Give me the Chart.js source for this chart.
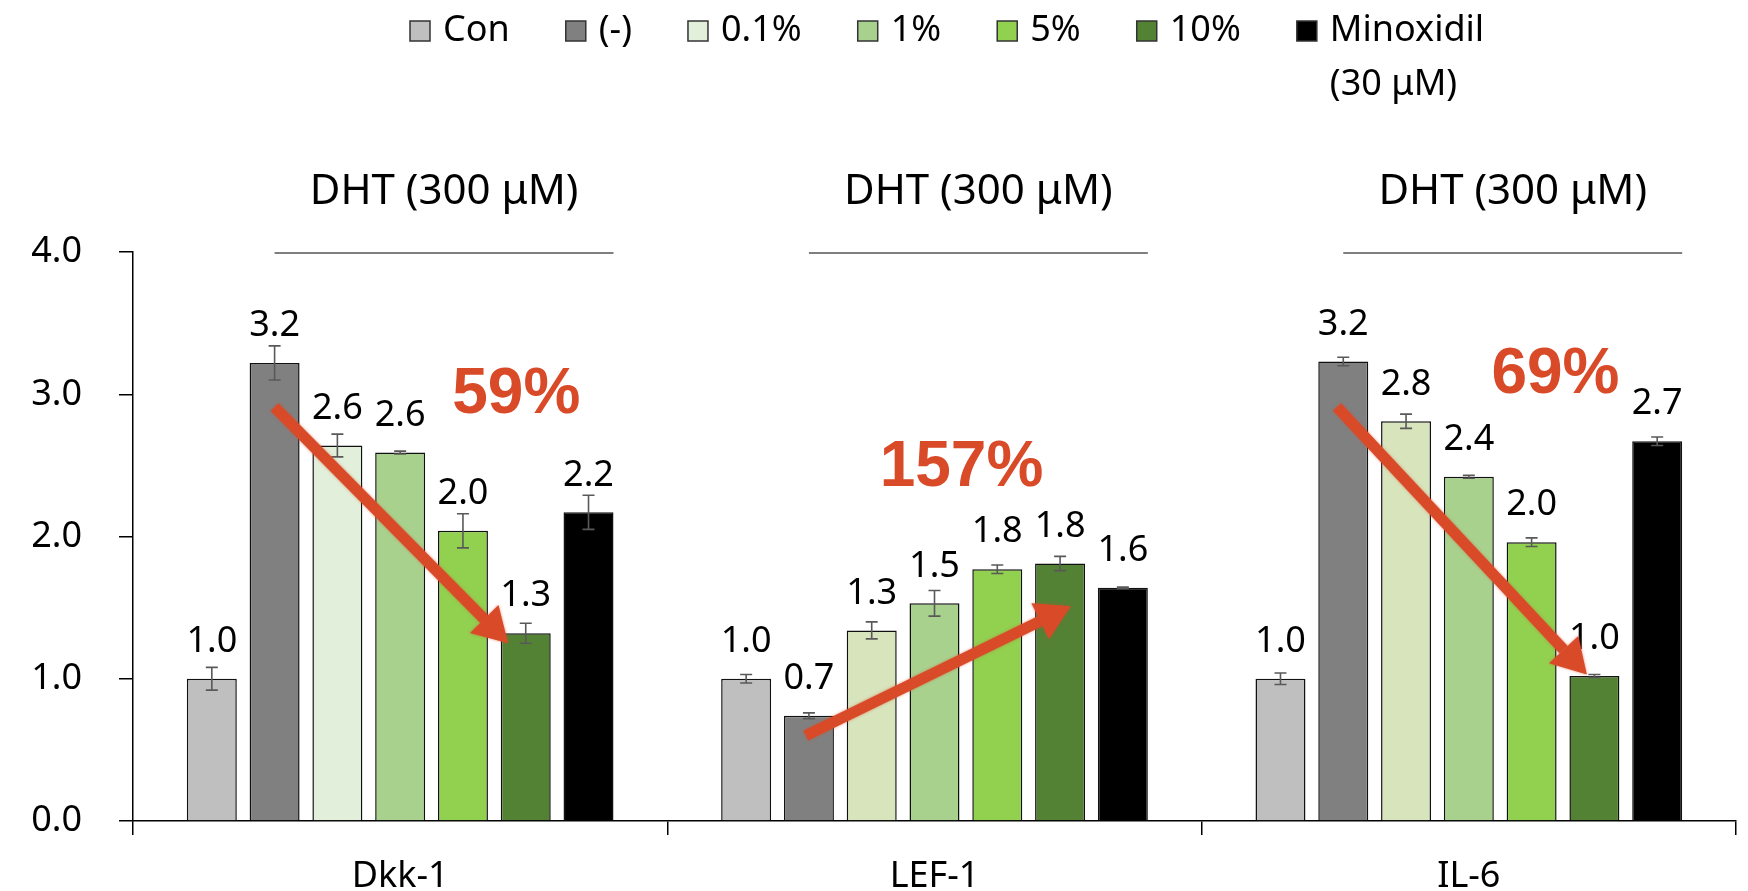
<!DOCTYPE html>
<html>
<head>
<meta charset="utf-8">
<script src="https://cdn.jsdelivr.net/npm/chart.js@4.4.1/dist/chart.umd.min.js"></script>
<style>
  html, body { margin: 0; padding: 0; background: #fff; }
  #wrap { width: 1748px; height: 891px; }
</style>
</head>
<body>
<div id="wrap"><canvas id="chart"></canvas></div>
<script>
// categories and series
const genes = ["Dkk-1", "LEF-1", "IL-6"];
const groupNames = ["Con", "(-)", "0.1%", "1%", "5%", "10%", "Minoxidil"];

const conVals   = [1.00, 1.00, 1.00];
const dhtVals   = [3.22, 0.74, 3.23];
const p01Vals   = [2.64, 1.34, 2.81];
const p1Vals    = [2.59, 1.53, 2.42];
const p5Vals    = [2.04, 1.77, 1.96];
const p10Vals   = [1.32, 1.81, 1.02];
const minoxVals = [2.17, 1.64, 2.67];

const conErr   = [0.08, 0.03, 0.04];
const dhtErr   = [0.12, 0.02, 0.03];
const p01Err   = [0.08, 0.06, 0.05];
const p1Err    = [0.01, 0.09, 0.01];
const p5Err    = [0.12, 0.03, 0.03];
const p10Err   = [0.07, 0.05, 0.01];
const minoxErr = [0.12, 0.005, 0.03];

const yTicks = [0, 1, 2, 3, 4];

// annotations (slot = bar index within group, level = y value)
const bracketText = "DHT (300 μM)";
const bracketLevel = 4.0;
const pctTexts = ["59%", "157%", "69%"];
const pctSlot = [4.85, 3.43, 4.38];
const pctLevel = [2.99, 2.48, 3.13];
const arrowFromSlot = [1.0, 0.95, 0.9];
const arrowFromLevel = [2.91, 0.60, 2.91];
const arrowToSlot = [4.72, 5.17, 4.88];
const arrowToLevel = [1.25, 1.51, 1.03];

const RED = "#D94A28";
const FONT = "'Noto Sans', 'DejaVu Sans', sans-serif";

const seriesVals = [conVals, dhtVals, p01Vals, p1Vals, p5Vals, p10Vals, minoxVals];
const seriesErr = [conErr, dhtErr, p01Err, p1Err, p5Err, p10Err, minoxErr];
const seriesColors = [
  "#BFBFBF",
  "#808080",
  ["#E2EFDA", "#D8E4BC", "#D8E4BC"],
  "#A9D18E",
  "#92D050",
  "#548235",
  "#000000"
];

const datasets = groupNames.map((name, i) => ({
  label: name,
  data: seriesVals[i],
  errors: seriesErr[i],
  backgroundColor: seriesColors[i],
  borderColor: "#111",
  borderWidth: 1.5,
  categoryPercentage: 0.8225,
  barPercentage: 0.796
}));

function slotX(chart, cat, slot) {
  const n = chart.data.datasets.length;
  const i0 = Math.max(0, Math.min(n - 2, Math.floor(slot)));
  const a = chart.getDatasetMeta(i0).data[cat].x;
  const b = chart.getDatasetMeta(i0 + 1).data[cat].x;
  return a + (slot - i0) * (b - a);
}

const extrasPlugin = {
  id: "extras",
  afterDatasetsDraw(chart) {
    const ctx = chart.ctx;
    const y = chart.scales.y;

    // error bars
    ctx.save();
    ctx.strokeStyle = "#595959";
    ctx.lineWidth = 1.6;
    chart.data.datasets.forEach((ds, di) => {
      chart.getDatasetMeta(di).data.forEach((bar, ci) => {
        const v = ds.data[ci], e = ds.errors[ci];
        const yt = y.getPixelForValue(v + e), yb = y.getPixelForValue(v - e);
        ctx.beginPath();
        ctx.moveTo(bar.x, yt); ctx.lineTo(bar.x, yb);
        ctx.moveTo(bar.x - 6, yt); ctx.lineTo(bar.x + 6, yt);
        ctx.moveTo(bar.x - 6, yb); ctx.lineTo(bar.x + 6, yb);
        ctx.stroke();
      });
    });
    ctx.restore();

    // value labels
    ctx.save();
    ctx.fillStyle = "#000";
    ctx.font = "36px " + FONT;
    ctx.textAlign = "center";
    ctx.textBaseline = "middle";
    chart.data.datasets.forEach((ds, di) => {
      chart.getDatasetMeta(di).data.forEach((bar, ci) => {
        ctx.fillText(ds.data[ci].toFixed(1), bar.x, bar.y - 37);
      });
    });
    ctx.restore();

    // DHT brackets: from centre of (-) bar to right edge of Minoxidil bar
    ctx.save();
    genes.forEach((g, ci) => {
      const b1 = chart.getDatasetMeta(1).data[ci];
      const b6 = chart.getDatasetMeta(6).data[ci];
      const x1 = b1.x, x2 = b6.x + b6.width / 2;
      const yl = y.getPixelForValue(bracketLevel) + 1;
      ctx.strokeStyle = "#555";
      ctx.lineWidth = 1.5;
      ctx.beginPath(); ctx.moveTo(x1, yl); ctx.lineTo(x2, yl); ctx.stroke();
      ctx.fillStyle = "#000";
      ctx.font = "42px " + FONT;
      ctx.textAlign = "center";
      ctx.textBaseline = "middle";
      ctx.fillText(bracketText, (x1 + x2) / 2, yl - 61);
    });
    ctx.restore();

    // arrows and percentages
    ctx.save();
    genes.forEach((g, ci) => {
      const xa = slotX(chart, ci, arrowFromSlot[ci]);
      const ya = y.getPixelForValue(arrowFromLevel[ci]);
      const xb = slotX(chart, ci, arrowToSlot[ci]);
      const yb = y.getPixelForValue(arrowToLevel[ci]);
      const ang = Math.atan2(yb - ya, xb - xa);
      const headLen = 34, headHalf = 20;
      const xs = xb - headLen * Math.cos(ang), ys = yb - headLen * Math.sin(ang);
      ctx.strokeStyle = RED;
      ctx.fillStyle = RED;
      ctx.shadowColor = "rgba(217,74,40,0.6)";
      ctx.shadowBlur = 3;
      ctx.lineWidth = 11;
      ctx.beginPath(); ctx.moveTo(xa, ya); ctx.lineTo(xs, ys); ctx.stroke();
      ctx.beginPath();
      ctx.moveTo(xb, yb);
      ctx.lineTo(xs - headHalf * Math.sin(ang), ys + headHalf * Math.cos(ang));
      ctx.lineTo(xs + headHalf * Math.sin(ang), ys - headHalf * Math.cos(ang));
      ctx.closePath();
      ctx.fill();
      ctx.shadowBlur = 0;
      ctx.font = "bold 64px 'Liberation Sans', Arial, sans-serif";
      ctx.textAlign = "center";
      ctx.textBaseline = "middle";
      ctx.fillText(pctTexts[ci], slotX(chart, ci, pctSlot[ci]), y.getPixelForValue(pctLevel[ci]));
    });
    ctx.restore();
  },
  afterDraw(chart) {
    // legend
    const ctx = chart.ctx;
    ctx.save();
    ctx.font = "36px " + FONT;
    ctx.textBaseline = "middle";
    const box = 20, gapText = 13, gapItem = 56, yMid = 31;
    let x = 410;
    chart.data.datasets.forEach((ds, i) => {
      const c = Array.isArray(ds.backgroundColor) ? ds.backgroundColor[0] : ds.backgroundColor;
      ctx.fillStyle = c;
      ctx.fillRect(x, yMid - box / 2, box, box);
      ctx.strokeStyle = "#333";
      ctx.lineWidth = 1.5;
      ctx.strokeRect(x, yMid - box / 2, box, box);
      ctx.fillStyle = "#000";
      ctx.textAlign = "left";
      const tx = x + box + gapText;
      ctx.fillText(ds.label, tx, yMid);
      if (i === chart.data.datasets.length - 1) {
        ctx.fillText("(30 μM)", tx, yMid + 54);
      }
      x = tx + ctx.measureText(ds.label).width + gapItem;
    });
    ctx.restore();
  }
};

new Chart(document.getElementById("chart"), {
  type: "bar",
  data: { labels: genes, datasets: datasets },
  options: {
    responsive: true,
    maintainAspectRatio: false,
    animation: false,
    layout: { padding: { top: 252, right: 12, left: 0, bottom: 0 } },
    plugins: {
      legend: { display: false },
      tooltip: { enabled: false }
    },
    scales: {
      x: {
        afterFit(s) { s.height = 70; },
        grid: { display: true, offset: true, drawOnChartArea: false, drawTicks: true, tickLength: 14, color: "#000", lineWidth: 1.5 },
        border: { display: true, color: "#000", width: 1.5 },
        ticks: { color: "#000", font: { size: 36, family: FONT }, padding: 20 }
      },
      y: {
        min: 0,
        max: 4,
        afterFit(s) { s.width = 133; },
        afterBuildTicks(s) { s.ticks = yTicks.map(v => ({ value: v })); },
        grid: { display: true, drawOnChartArea: false, drawTicks: true, tickLength: 14, color: "#000", lineWidth: 1.5 },
        border: { display: true, color: "#000", width: 1.5 },
        ticks: { color: "#000", font: { size: 36, family: FONT }, padding: 37, callback: v => Number(v).toFixed(1) }
      }
    }
  },
  plugins: [extrasPlugin]
});
</script>
</body>
</html>
